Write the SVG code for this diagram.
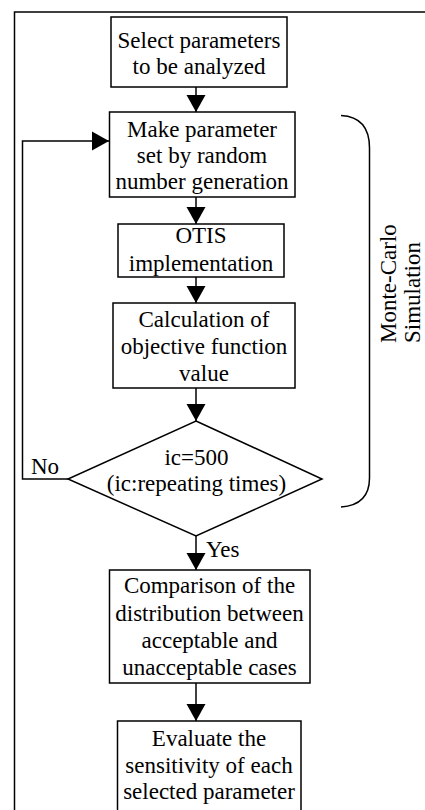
<svg xmlns="http://www.w3.org/2000/svg" width="425" height="810" viewBox="0 0 425 810">
<style>
.box{fill:#fff;stroke:#000;stroke-width:1.5}
.ln{fill:none;stroke:#000;stroke-width:1.5}
.t{font-family:"Liberation Serif","Times New Roman",serif;font-size:23px;fill:#000;text-anchor:middle}
.ts{font-family:"Liberation Serif","Times New Roman",serif;font-size:23px;fill:#000}
</style>
<defs>
<marker id="ah" markerUnits="userSpaceOnUse" markerWidth="17" markerHeight="20" viewBox="0 0 17 20" refX="17" refY="10" orient="auto">
<polygon points="0,0.5 17,10 0,19.5" fill="#000"/>
</marker>
</defs>
<rect width="425" height="810" fill="#fff"/>
<g id="frame">
<path class="ln" d="M14.5,810 L14.5,12 L425,12" stroke-width="1.3"/>
</g>
<g id="connectors">
<line class="ln" x1="196" y1="87" x2="196" y2="112" marker-end="url(#ah)"/>
<line class="ln" x1="196" y1="197" x2="196" y2="224" marker-end="url(#ah)"/>
<line class="ln" x1="196" y1="277" x2="196" y2="303" marker-end="url(#ah)"/>
<line class="ln" x1="196" y1="388" x2="196" y2="421" marker-end="url(#ah)"/>
<line class="ln" x1="196" y1="536" x2="196" y2="570" marker-end="url(#ah)"/>
<line class="ln" x1="196" y1="683" x2="196" y2="721" marker-end="url(#ah)"/>
<path class="ln" d="M68,479 L22.5,479 L22.5,141 L109,141" marker-end="url(#ah)"/>
<text class="ts" x="31" y="474">No</text>
<text class="ts" x="206" y="557">Yes</text>
</g>
<g id="n1">
<rect class="box" x="111" y="17" width="176" height="70"/>
<text class="t" x="199" y="48">Select parameters</text>
<text class="t" x="199" y="74">to be analyzed</text>
</g>
<g id="n2">
<rect class="box" x="109.5" y="112" width="185.5" height="85"/>
<text class="t" x="202" y="137">Make parameter</text>
<text class="t" x="202" y="163">set by random</text>
<text class="t" x="202" y="189">number generation</text>
</g>
<g id="n3">
<rect class="box" x="118" y="224" width="166" height="53"/>
<text class="t" x="201" y="243">OTIS</text>
<text class="t" x="201" y="271">implementation</text>
</g>
<g id="n4">
<rect class="box" x="113" y="303" width="182" height="85"/>
<text class="t" x="204" y="327">Calculation of</text>
<text class="t" x="204" y="354">objective function</text>
<text class="t" x="204" y="381">value</text>
</g>
<g id="n5">
<polygon class="box" points="196,421 322,479 196,536 68,479"/>
<text class="t" x="196.5" y="465">ic=500</text>
<text class="t" x="196.5" y="491">(ic:repeating times)</text>
</g>
<g id="n6">
<rect class="box" x="109.5" y="570" width="200.5" height="113"/>
<text class="t" x="209.5" y="593">Comparison of the</text>
<text class="t" x="209.5" y="621">distribution between</text>
<text class="t" x="209.5" y="648">acceptable and</text>
<text class="t" x="209.5" y="675">unacceptable cases</text>
</g>
<g id="n7">
<rect class="box" x="117.5" y="721" width="183.5" height="100"/>
<text class="t" x="209" y="746">Evaluate the</text>
<text class="t" x="209" y="773">sensitivity of each</text>
<text class="t" x="209" y="799">selected parameter</text>
</g>
<g id="brace">
<path class="ln" d="M341,115.5 Q369.5,117 369.5,148 L369.5,478 Q369.5,505 341,507" stroke-width="1.8"/>
<g transform="translate(396,343) rotate(-90)">
<text class="ts" x="0" y="0">Monte-Carlo</text>
<text class="ts" x="0" y="24">Simulation</text>
</g>
</g>
</svg>
